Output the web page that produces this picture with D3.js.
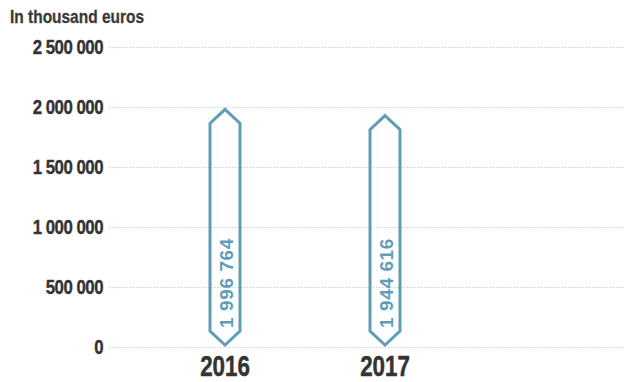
<!DOCTYPE html>
<html>
<head>
<meta charset="utf-8">
<script src="https://cdn.jsdelivr.net/npm/d3@7"></script>
<style>
  html, body { margin: 0; padding: 0; background: #fff; }
  svg { display: block; }
  text { font-family: "Liberation Sans", Arial, sans-serif; font-weight: bold; }
</style>
</head>
<body>
<svg id="chart" width="625" height="382"></svg>
<script>
// Annual amounts, in thousand euros
const years = ["2016", "2017"];
const amounts = [1996764, 1944616];
const yTicks = [0, 500000, 1000000, 1500000, 2000000, 2500000];
const yTickLabels = ["0", "500 000", "1 000 000", "1 500 000", "2 000 000", "2 500 000"];
const valueLabels = ["1 996 764", "1 944 616"];
const unitTitle = "In thousand euros";

const W = 625, H = 382;
const margin = { top: 47, right: 1, bottom: 35, left: 109 };
const blue = "#5f9db7";
const FONT = "'Liberation Sans', Arial, sans-serif";

const svg = d3.select("#chart");

const y = d3.scaleLinear()
  .domain([0, 2500000])
  .range([H - margin.bottom, margin.top]);

const x = d3.scaleBand()
  .domain(years)
  .range([margin.left + 36, margin.left + 356])
  .paddingInner(0)
  .paddingOuter(0);

// Dotted horizontal gridlines
svg.append("g")
  .selectAll("line")
  .data(yTicks)
  .join("line")
  .attr("x1", margin.left)
  .attr("x2", W - margin.right)
  .attr("y1", d => Math.round(y(d)) + 0.5)
  .attr("y2", d => Math.round(y(d)) + 0.5)
  .attr("stroke", "#cfcfcf")
  .attr("stroke-width", 1)
  .attr("stroke-dasharray", "1.5,1.5");

// Y axis labels (condensed horizontally)
const ySx = 0.8;
const yAxis = d3.axisLeft(y)
  .tickValues(yTicks)
  .tickSize(0)
  .tickPadding(6)
  .tickFormat((d, i) => yTickLabels[i]);

const gy = svg.append("g")
  .attr("transform", `translate(${margin.left},0)`)
  .call(yAxis);
gy.select(".domain").remove();
gy.selectAll("text")
  .attr("x", -6 / ySx)
  .attr("transform", `scale(${ySx},1)`)
  .attr("fill", "#333")
  .attr("stroke", "#333")
  .attr("stroke-width", 0.4)
  .attr("font-size", 21)
  .attr("letter-spacing", "-0.6")
  .attr("font-family", FONT)
  .attr("font-weight", "bold");

// Unit title
svg.append("text")
  .attr("transform", "translate(10,23) scale(0.86,1)")
  .attr("fill", "#3a3a3a")
  .attr("stroke", "#3a3a3a")
  .attr("stroke-width", 0.3)
  .attr("font-size", 18)
  .text(unitTitle);

// X axis labels
const xSx = 0.77;
const xAxis = d3.axisBottom(x).tickSize(0).tickPadding(0);
const gx = svg.append("g")
  .attr("transform", `translate(0,${H - margin.bottom})`)
  .call(xAxis);
gx.select(".domain").remove();
gx.selectAll("text")
  .attr("dy", null)
  .attr("y", 29)
  .attr("transform", `scale(${xSx},1)`)
  .attr("fill", "#333")
  .attr("stroke", "#333")
  .attr("stroke-width", 0.5)
  .attr("font-size", 29)
  .attr("font-family", FONT)
  .attr("font-weight", "bold");

// Elongated hexagon marks
const halfW = 15, tip = 14;
function hexPath(cx, top, bottom) {
  return `M${cx},${top} L${cx + halfW},${top + tip} L${cx + halfW},${bottom - tip} ` +
         `L${cx},${bottom} L${cx - halfW},${bottom - tip} L${cx - halfW},${top + tip} Z`;
}

const data = years.map((yr, i) => ({ year: yr, value: amounts[i], label: valueLabels[i] }));

const marks = svg.append("g")
  .selectAll("g")
  .data(data)
  .join("g");

marks.append("path")
  .attr("d", d => {
    const cx = x(d.year) + x.bandwidth() / 2;
    return hexPath(cx, y(d.value) + 2, y(0) - 2);
  })
  .attr("fill", "none")
  .attr("stroke", blue)
  .attr("stroke-width", 3)
  .attr("stroke-linejoin", "miter");

marks.append("text")
  .attr("transform", d => {
    const cx = x(d.year) + x.bandwidth() / 2;
    return `translate(${cx + 7.5},${y(0) - 19}) rotate(-90)`;
  })
  .attr("fill", blue)
  .attr("font-size", 19)
  .attr("letter-spacing", "0.6")
  .text(d => d.label);
</script>
</body>
</html>
